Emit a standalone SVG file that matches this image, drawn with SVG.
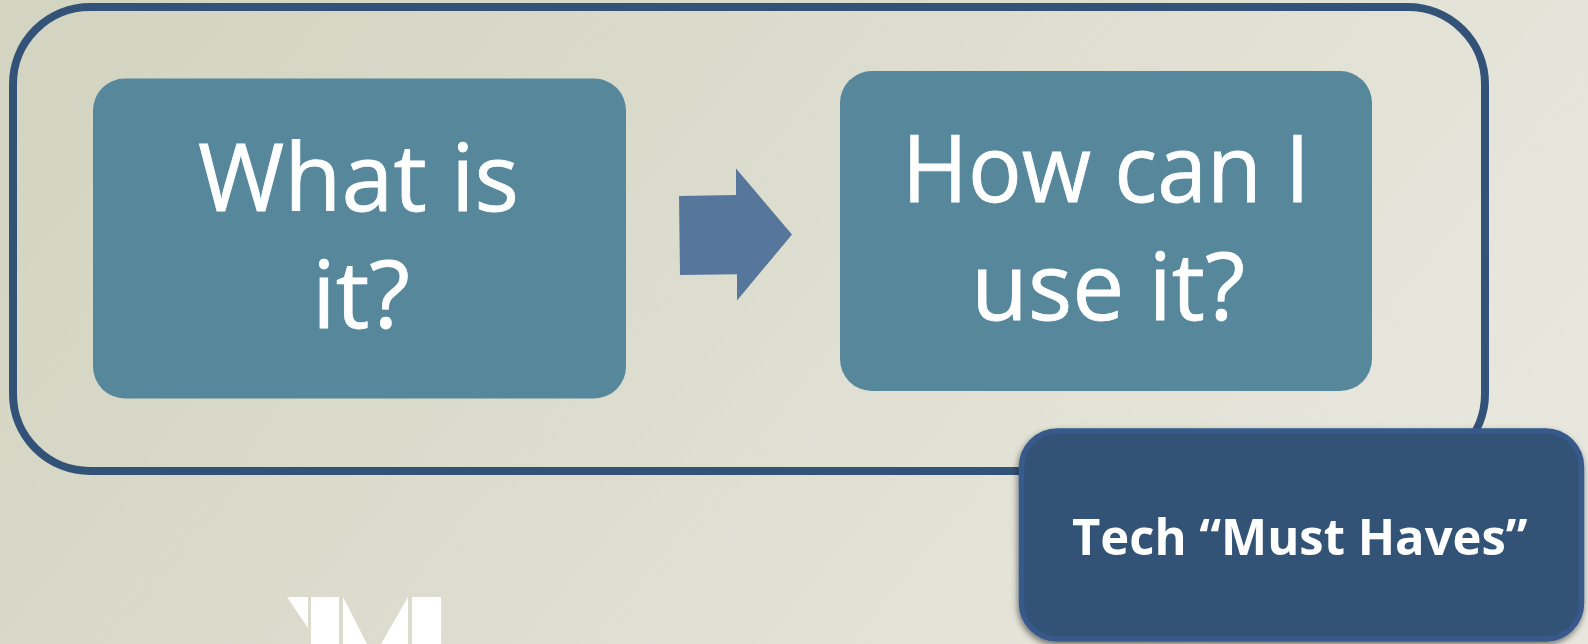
<svg xmlns="http://www.w3.org/2000/svg" width="1588" height="644" viewBox="0 0 1588 644">
<style>
.big{font-family:"Open Sans","Liberation Sans",sans-serif;font-size:93px;fill:#fff;stroke:#fff;stroke-width:.8}
.box{fill:#57879b}
.logo{fill:#fff}
</style>
<defs>
<linearGradient id="bg" gradientUnits="userSpaceOnUse" x1="200" y1="-100" x2="1250" y2="760">
<stop offset="0" stop-color="#d3d4c1"/><stop offset="1" stop-color="#e7e7de"/>
</linearGradient>
<filter id="sh" x="-5%" y="-5%" width="110%" height="112%"><feDropShadow dx="-1" dy="3" stdDeviation="3" flood-color="#000" flood-opacity=".5"/></filter>
</defs>
<rect width="1588" height="644" fill="url(#bg)"/>
<g id="logo"><polygon class="logo" points="287,597 308,597 308,628"/><rect class="logo" x="311" y="597" width="28" height="47"/><polygon class="logo" points="343,597 367,644 343,644"/><polygon class="logo" points="408,597 408,644 381,644"/><rect class="logo" x="412" y="597" width="29" height="47"/></g>
<g id="frame"><rect x="13" y="7" width="1472" height="464" rx="77" ry="77" fill="none" stroke="#335277" stroke-width="8"/></g>
<g id="node-what"><rect class="box" x="93" y="78.500" width="533" height="320" rx="32"/>
<text class="big" x="198" y="210.500" textLength="321" lengthAdjust="spacingAndGlyphs">What is</text>
<text class="big" x="312" y="327.500" textLength="98" lengthAdjust="spacingAndGlyphs">it?</text></g>
<g id="connectors"><polygon points="679,196 736,195 736,168.500 792,234.500 737,300.500 737,274.300 680,275" fill="#56779b"/></g>
<g id="node-how"><rect class="box" x="840" y="71" width="532" height="320" rx="32"/>
<text class="big" x="902" y="202" textLength="408" lengthAdjust="spacingAndGlyphs">How can I</text>
<text class="big" x="971" y="319.500" textLength="274" lengthAdjust="spacingAndGlyphs">use it?</text></g>
<g id="node-tech"><rect x="1021.500" y="431" width="560" height="208" rx="36" fill="#335276" stroke="#375a8a" stroke-width="5.500" filter="url(#sh)"/>
<text x="1072" y="555" textLength="455.500" lengthAdjust="spacingAndGlyphs" font-family="'Open Sans','Liberation Sans',sans-serif" font-weight="700" font-size="51" fill="#fff">Tech “Must Haves”</text></g>
</svg>
